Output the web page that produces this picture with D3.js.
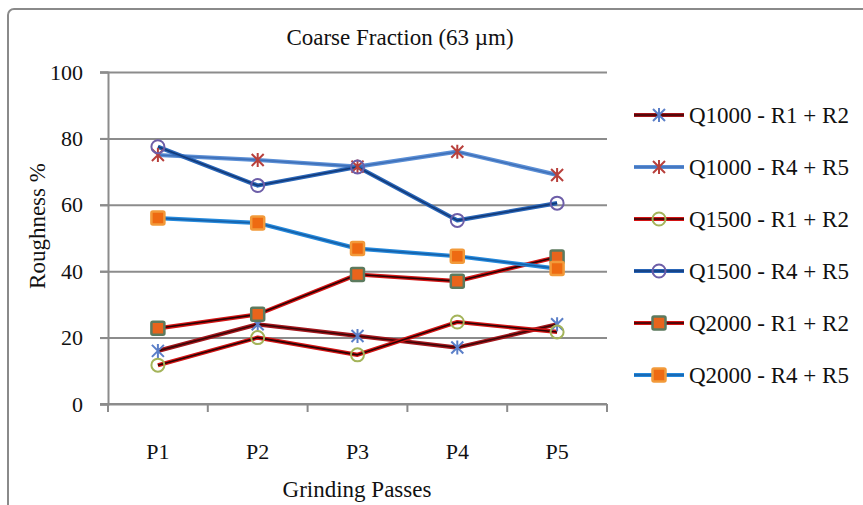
<!DOCTYPE html>
<html>
<head>
<meta charset="utf-8">
<script src="https://cdn.jsdelivr.net/npm/d3@7"></script>
<style>
  html, body { margin: 0; padding: 0; background: #fff; }
  svg { display: block; }
  svg text { font-family: "Liberation Serif", "DejaVu Serif", "Noto Serif", "Times New Roman", Times, serif !important; fill: #111; }
</style>
</head>
<body>
<svg id="chart" width="863" height="505"></svg>
<script>
// Grinding passes on the x axis
const passes = ["P1", "P2", "P3", "P4", "P5"];
const yTicks = [0, 20, 40, 60, 80, 100];

// Roughness % per series, one value per pass
const q1000R1R2 = [16, 24, 20.5, 17, 24];
const q1000R4R5 = [75, 73.5, 71.5, 76, 69];
const q1500R1R2 = [11.7, 20, 14.8, 24.7, 21.7];
const q1500R4R5 = [77.5, 65.8, 71.4, 55.3, 60.5];
const q2000R1R2 = [22.8, 27, 39, 37, 44.3];
const q2000R4R5 = [56, 54.5, 46.8, 44.5, 40.8];

const seriesNames = [
  "Q1000 - R1 + R2", "Q1000 - R4 + R5", "Q1500 - R1 + R2",
  "Q1500 - R4 + R5", "Q2000 - R1 + R2", "Q2000 - R4 + R5"
];
const seriesValues = [q1000R1R2, q1000R4R5, q1500R1R2, q1500R4R5, q2000R1R2, q2000R4R5];

// line: outer colour + darker core; marker: shape, stroke, fill
const styles = [
  { line: "#a3161c", core: "#3a0606", marker: "star", mStroke: "#5b7fc8", mFill: "none" },
  { line: "#5b8fd6", core: "#3f70b8", marker: "star", mStroke: "#b8403c", mFill: "none" },
  { line: "#d41414", core: "#2a0303", marker: "circle", mStroke: "#a4b45a", mFill: "none" },
  { line: "#2a66b8", core: "#123a78", marker: "circle", mStroke: "#6d5ea8", mFill: "none" },
  { line: "#d41414", core: "#2a0303", marker: "square", mStroke: "#5c7a5e", mFill: "#e8641c" },
  { line: "#2589dc", core: "#1660a8", marker: "square", mStroke: "#f29a3a", mFill: "#ee6a12" }
];

const FONT = '"Liberation Serif", "DejaVu Serif", "Noto Serif", "Times New Roman", Times, serif';
const svg = d3.select("#chart");

// outer frame
svg.append("rect")
  .attr("x", 8).attr("y", 9).attr("width", 870).attr("height", 520)
  .attr("rx", 6)
  .attr("fill", "#fff").attr("stroke", "#8a8a8a").attr("stroke-width", 2);

const plot = { left: 108, right: 607, top: 72, bottom: 404 };

const x = d3.scaleBand().domain(passes).range([plot.left, plot.right]);
const y = d3.scaleLinear().domain([0, 100]).range([plot.bottom, plot.top]);
const cx = d => x(d) + x.bandwidth() / 2;

// horizontal gridlines
svg.append("g")
  .attr("transform", `translate(${plot.right},0)`)
  .call(d3.axisLeft(y).tickValues(yTicks).tickSize(plot.right - plot.left + 8).tickFormat(""))
  .call(g => g.select(".domain").remove())
  .call(g => g.selectAll("line").attr("stroke", "#8c8c8c").attr("stroke-width", 2));

// y axis
svg.append("g")
  .attr("transform", `translate(${plot.left},0)`)
  .attr("font-family", FONT)
  .call(d3.axisLeft(y).tickValues(yTicks).tickSize(8).tickPadding(17))
  .attr("font-family", FONT).attr("font-size", 22)
  .call(g => g.select(".domain").attr("stroke", "#8c8c8c").attr("stroke-width", 2))
  .call(g => g.selectAll("line").attr("stroke", "#8c8c8c").attr("stroke-width", 2))
  .call(g => g.selectAll("text").attr("fill", "#111"));

// x axis: labels centred in bands, ticks on band edges
const xAxis = svg.append("g")
  .attr("transform", `translate(0,${plot.bottom})`)
  .call(d3.axisBottom(x).tickSize(0).tickPadding(39))
  .attr("font-family", FONT).attr("font-size", 22)
  .call(g => g.select(".domain").remove())
  .call(g => g.selectAll("text").attr("fill", "#111"));

xAxis.append("line")
  .attr("x1", plot.left - 8).attr("x2", plot.right)
  .attr("stroke", "#8c8c8c").attr("stroke-width", 2);

const edges = passes.map(p => x(p)).concat([x.range()[1]]);
xAxis.selectAll(".edge").data(edges).enter().append("line")
  .attr("class", "edge")
  .attr("x1", d => d).attr("x2", d => d)
  .attr("y1", 0).attr("y2", 8)
  .attr("stroke", "#8c8c8c").attr("stroke-width", 2);

// titles
svg.append("text")
  .attr("x", 400).attr("y", 45)
  .attr("text-anchor", "middle")
  .attr("font-family", FONT).attr("font-size", 23)
  .text("Coarse Fraction (63 µm)");

svg.append("text")
  .attr("x", 357).attr("y", 497)
  .attr("text-anchor", "middle")
  .attr("font-family", FONT).attr("font-size", 23)
  .text("Grinding Passes");

svg.append("text")
  .attr("transform", "translate(45,226) rotate(-90)")
  .attr("text-anchor", "middle")
  .attr("font-family", FONT).attr("font-size", 23)
  .text("Roughness %");

function drawMarker(g, shape, st) {
  if (shape === "star") {
    const r = 6;
    const d = `M${-r},${-r}L${r},${r}M${-r},${r}L${r},${-r}M0,${-r - 1}L0,${r + 1}`;
    g.append("path").attr("d", d)
      .attr("stroke", st.mStroke).attr("stroke-width", 2).attr("fill", "none");
  } else if (shape === "circle") {
    g.append("circle").attr("r", 6.5)
      .attr("fill", "#fff").attr("fill-opacity", 0)
      .attr("stroke", st.mStroke).attr("stroke-width", 2);
  } else {
    g.append("rect").attr("x", -6.5).attr("y", -6.5).attr("width", 13).attr("height", 13)
      .attr("rx", 1.5)
      .attr("fill", st.mFill).attr("stroke", st.mStroke).attr("stroke-width", 2.5);
  }
}

const line = d3.line().x((d, i) => cx(passes[i])).y(d => y(d));

const series = svg.append("g");
seriesValues.forEach((vals, s) => {
  const st = styles[s];
  const g = series.append("g");
  g.append("path").attr("d", line(vals))
    .attr("fill", "none").attr("stroke", st.line).attr("stroke-width", 4.2)
    .attr("stroke-linejoin", "round");
  g.append("path").attr("d", line(vals))
    .attr("fill", "none").attr("stroke", st.core).attr("stroke-width", 1.6)
    .attr("stroke-linejoin", "round");
});
seriesValues.forEach((vals, s) => {
  const st = styles[s];
  vals.forEach((v, i) => {
    const m = series.append("g").attr("transform", `translate(${cx(passes[i])},${y(v)})`);
    drawMarker(m, st.marker, st);
  });
});

// legend
const legend = svg.append("g");
seriesNames.forEach((name, s) => {
  const st = styles[s];
  const ly = 115 + s * 52;
  const row = legend.append("g").attr("transform", `translate(0,${ly})`);
  row.append("line").attr("x1", 634).attr("x2", 684)
    .attr("stroke", st.line).attr("stroke-width", 4.2);
  row.append("line").attr("x1", 634).attr("x2", 684)
    .attr("stroke", st.core).attr("stroke-width", 1.6);
  const m = row.append("g").attr("transform", "translate(659,0)");
  drawMarker(m, st.marker, st);
  row.append("text").attr("x", 689).attr("y", 0).attr("dy", "0.35em")
    .attr("font-family", FONT).attr("font-size", 23)
    .text(name);
});
</script>
</body>
</html>
